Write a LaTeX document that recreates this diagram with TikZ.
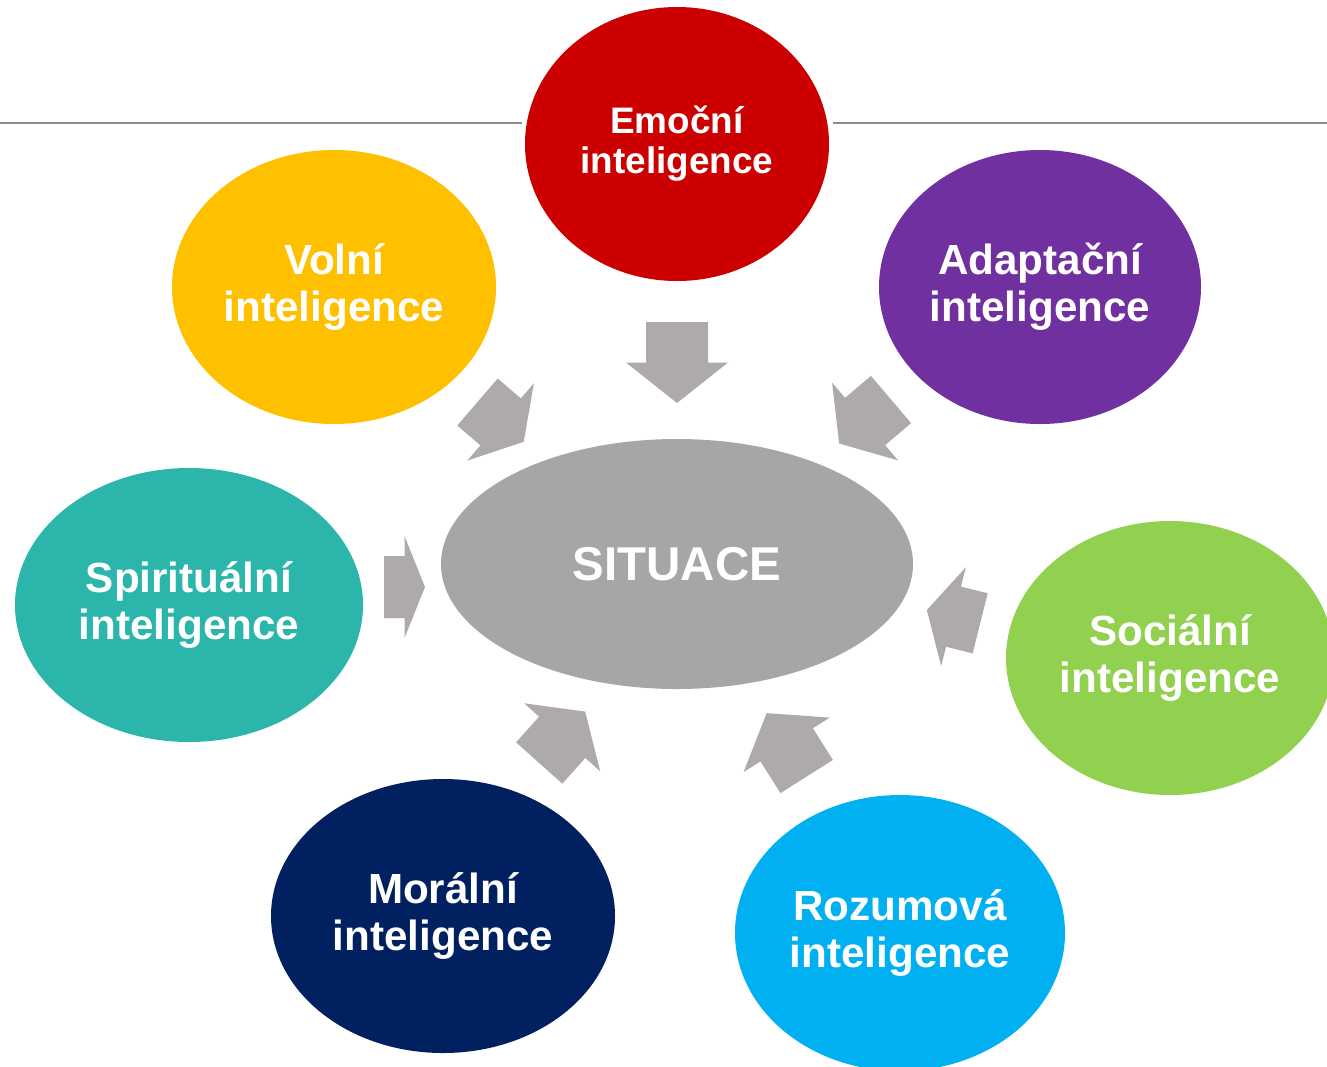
\documentclass[tikz,border=0pt]{standalone}
\usepackage{fontspec}
\setmainfont{Liberation Sans}
\usetikzlibrary{shapes.geometric,positioning}
\definecolor{cEmo}{HTML}{CC0000}
\definecolor{cVol}{HTML}{FFC000}
\definecolor{cAda}{HTML}{7030A0}
\definecolor{cSpi}{HTML}{2BB5AB}
\definecolor{cSoc}{HTML}{92D050}
\definecolor{cMor}{HTML}{002060}
\definecolor{cRoz}{HTML}{00B0F0}
\definecolor{cSit}{HTML}{A6A6A6}
\definecolor{cArr}{HTML}{AEAAAA}
\definecolor{cRule}{HTML}{8C8C8C}
\begin{document}
\begin{tikzpicture}[x=.02cm, y=.02cm, line join=round,
		bubble/.style={ellipse, inner sep=0pt, text=white, align=center, font=\bfseries\fontsize{24}{26.6}\selectfont},
		blockarr/.style={fill=cArr}]
			\def\u{.02cm}
			\useasboundingbox (0,0) rectangle (1327,-1066);
			\clip (0,0) rectangle (1327,-1066);
			%\draw[color=gray!50,dashed] (0,0) grid[step=100] (1327,-1066);
			\draw[cRule, line width=1.2pt] (0,-123)--(522,-123) (833,-123)--(1327,-123);
			\node[bubble, fill=cEmo, minimum width=304*\u, minimum height=274*\u, font=\bfseries\fontsize{21}{22.7}\selectfont] (emo) at (677,-144) {Emoční\\inteligence};
			\node[bubble, fill=cVol, minimum width=324*\u, minimum height=274*\u] (vol) at (334,-287) {Volní\\inteligence};
			\node[bubble, fill=cAda, minimum width=322*\u, minimum height=274*\u] (ada) at (1040,-287) {Adaptační\\inteligence};
			\node[bubble, fill=cSpi, minimum width=348*\u, minimum height=274*\u] (spi) at (189,-605) {Spirituální\\inteligence};
			\node[bubble, fill=cSit, minimum width=472*\u, minimum height=250*\u, font=\bfseries\fontsize{27}{30}\selectfont] (sit) at (677,-564) {SITUACE};
			\node[bubble, fill=cSoc, minimum width=328*\u, minimum height=274*\u] (soc) at (1170,-658) {Sociální\\inteligence};
			\node[bubble, fill=cMor, minimum width=344*\u, minimum height=274*\u] (mor) at (443,-916) {Morální\\inteligence};
			\node[bubble, fill=cRoz, minimum width=330*\u, minimum height=276*\u] (roz) at (900,-933) {Rozumová\\inteligence};
			% block arrows: tail x / tail y / angle / length
			\foreach \tx/\ty/\a/\l in {677/322/-90/81, 477.5/402/-40.7/61, 891/399.5/-139.7/68,
				384/587/0/41, 980.2/623.3/166/55, 539.2/763/48.2/69, 806.7/776.5/122.3/75}{
				\pgfmathsetmacro\h{\l/2}
				\begin{scope}[shift={(\tx,-\ty)}, rotate=\a]
					\fill[blockarr] (0,-31)--(\h,-31)--(\h,-51)--(\l,0)--(\h,51)--(\h,31)--(0,31)--cycle;
				\end{scope}
			}
		\end{tikzpicture}
\end{document}
